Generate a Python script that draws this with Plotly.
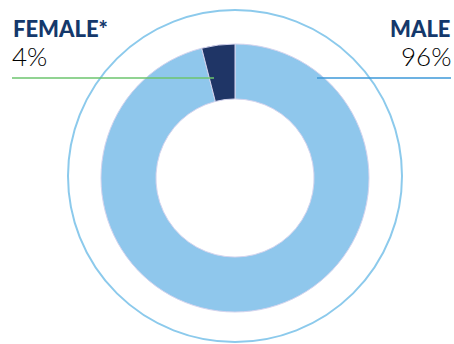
import plotly.graph_objects as go

# Gender split
categories = ["MALE", "FEMALE*"]
values = [96, 4]
slice_colors = ["#8fc7ec", "#1f3566"]

W, H = 454, 344


def px_x(x):
    return x / W


def px_y(y):
    return 1 - y / H


fig = go.Figure()

fig.add_trace(go.Pie(
    labels=categories,
    values=values,
    hole=0.59,
    sort=False,
    direction="clockwise",
    rotation=0,
    textinfo="none",
    hoverinfo="label+percent",
    marker=dict(colors=slice_colors, line=dict(color="#d4d4ee", width=1)),
    domain=dict(x=[px_x(101), px_x(369)], y=[px_y(312), px_y(44)]),
    showlegend=False,
))

navy = "#14386b"
label_font = dict(family="Lato, 'Open Sans', sans-serif", size=22, color=navy, weight=900)
pct_font = dict(family="Lato, 'Open Sans', sans-serif", size=26, color="#000000", weight=300)

# left label (second category) and right label (first category)
fig.add_annotation(x=px_x(11), y=px_y(13), xref="paper", yref="paper",
                   xanchor="left", yanchor="top", showarrow=False,
                   text=categories[1], font=label_font)
fig.add_annotation(x=px_x(10), y=px_y(38), xref="paper", yref="paper",
                   xanchor="left", yanchor="top", showarrow=False,
                   text=f"{values[1]}%", font=pct_font)
fig.add_annotation(x=px_x(453), y=px_y(13), xref="paper", yref="paper",
                   xanchor="right", yanchor="top", showarrow=False,
                   text=categories[0], font=label_font)
fig.add_annotation(x=px_x(453), y=px_y(38), xref="paper", yref="paper",
                   xanchor="right", yanchor="top", showarrow=False,
                   text=f"{values[0]}%", font=pct_font)

# outer ring around the donut
fig.add_shape(type="circle", xref="paper", yref="paper",
              x0=px_x(68), x1=px_x(402), y0=px_y(342), y1=px_y(10),
              line=dict(color="#8ccaec", width=2), layer="below")

# leader lines
fig.add_shape(type="line", xref="paper", yref="paper",
              x0=px_x(12), x1=px_x(214), y0=px_y(78), y1=px_y(78),
              line=dict(color="#6cc46e", width=1.5))
fig.add_shape(type="line", xref="paper", yref="paper",
              x0=px_x(317), x1=px_x(451), y0=px_y(78), y1=px_y(78),
              line=dict(color="#3d98d8", width=1.5))

fig.update_layout(
    width=W, height=H,
    margin=dict(l=0, r=0, t=0, b=0),
    paper_bgcolor="white",
    plot_bgcolor="white",
)

fig.write_html("out.html")
